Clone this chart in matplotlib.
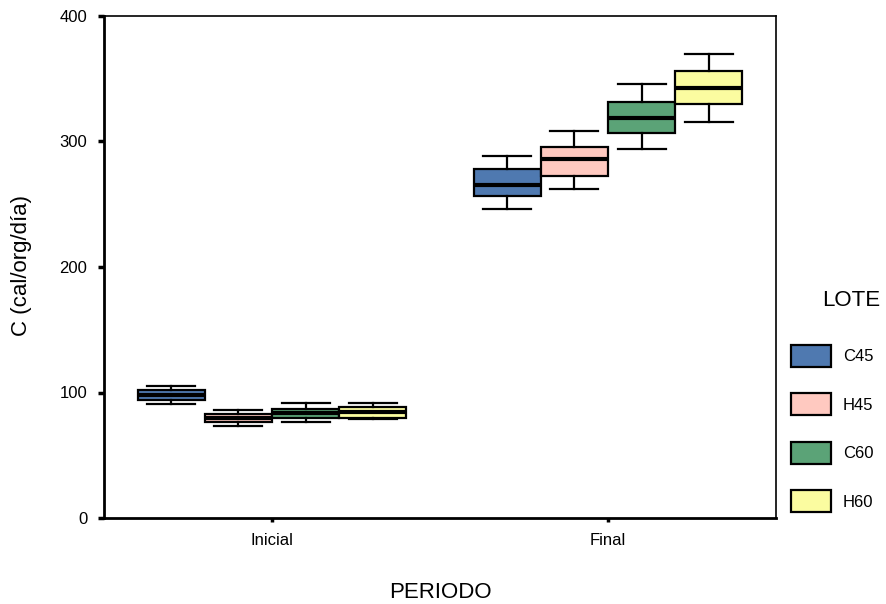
import numpy as np
import matplotlib.pyplot as plt
from matplotlib.patches import Patch

plt.rcParams['font.family'] = ['Liberation Sans', 'DejaVu Sans']

periodos = ["Inicial", "Final"]
lotes = ["C45", "H45", "C60", "H60"]
colores = ["#4f79b0", "#ffc9c0", "#5ba377", "#fbfca0"]

# box stats per lote, one value per periodo (Inicial, Final)
whislo = {"C45": [90.8, 246], "H45": [73.3, 262], "C60": [76.7, 294], "H60": [78.6, 315.5]}
q1 = {"C45": [94.0, 256.6], "H45": [76.3, 272.5], "C60": [80.0, 306.8], "H60": [80.0, 330]}
med = {"C45": [98.3, 265], "H45": [79.7, 286], "C60": [83.7, 319], "H60": [84.7, 343]}
q3 = {"C45": [102.0, 278], "H45": [82.6, 295.6], "C60": [86.6, 331.5], "H60": [88.2, 355.8]}
whishi = {"C45": [105.4, 288.4], "H45": [86.0, 308], "C60": [91.4, 345.8], "H60": [91.4, 370]}

fig = plt.figure(figsize=(8.87, 6.04), dpi=100)
ax = fig.add_axes([104/887, 86/604, 672/887, 502/604])

offsets = [-0.3, -0.1, 0.1, 0.3]
for j, lote in enumerate(lotes):
    stats = []
    for i in range(len(periodos)):
        stats.append(dict(whislo=whislo[lote][i], q1=q1[lote][i], med=med[lote][i],
                          q3=q3[lote][i], whishi=whishi[lote][i], fliers=[]))
    pos = [i + 1 + offsets[j] for i in range(len(periodos))]
    ax.bxp(stats, positions=pos, widths=0.2, capwidths=0.143, patch_artist=True,
           showfliers=False, manage_ticks=False,
           boxprops=dict(facecolor=colores[j], edgecolor="black", linewidth=1.6),
           medianprops=dict(color="black", linewidth=3),
           whiskerprops=dict(color="black", linewidth=1.6),
           capprops=dict(color="black", linewidth=1.6))

ax.set_xlim(0.5, 2.5)
ax.set_ylim(0, 400)
ax.set_yticks([0, 100, 200, 300, 400])
ax.set_xticks([1, 2])
ax.set_xticklabels(periodos)
ax.tick_params(axis="y", direction="out", length=4, width=2.5, labelsize=12, pad=8)
ax.tick_params(axis="x", direction="out", length=3, width=2.5, labelsize=12, pad=8)
for s in ["left", "bottom"]:
    ax.spines[s].set_linewidth(2)
for s in ["top", "right"]:
    ax.spines[s].set_linewidth(1.2)

fig.text(440/887, 1 - 592/604, "PERIODO", ha="center", va="center", fontsize=16)
fig.text(22/887, 1 - 265/604, "C (cal/org/día)", ha="center", va="center",
         rotation=90, fontsize=16)

# legend title drawn apart so it can sit right of the patches like the original
fig.text(851/887, 1 - 300/604, "LOTE", ha="center", va="center", fontsize=16)
handles = [Patch(facecolor=c, edgecolor="black", linewidth=1.6) for c in colores]
fig.legend(handles, lotes, loc="upper left", bbox_to_anchor=(791/887, 1 - 345/604),
           frameon=False, fontsize=12, handlelength=2.4, handleheight=1.65,
           labelspacing=1.59, handletextpad=0.72, borderaxespad=0, borderpad=0)

fig.savefig("out.png", dpi=100)
